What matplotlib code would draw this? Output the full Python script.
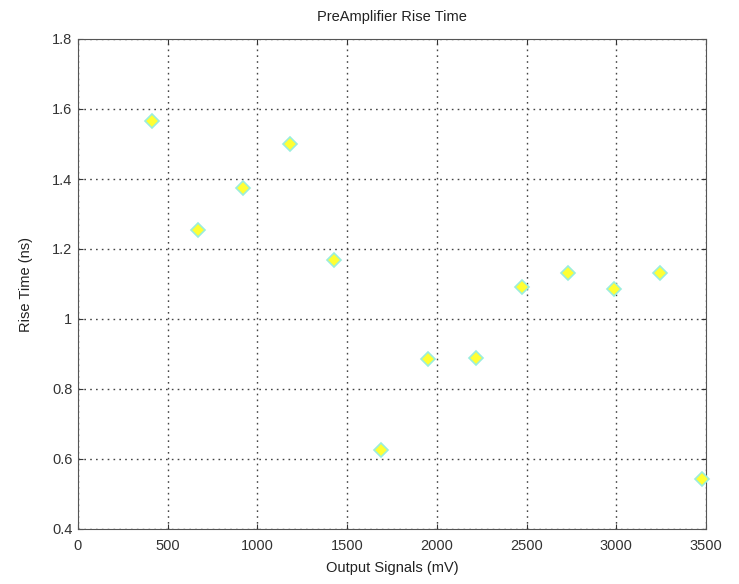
import numpy as np
import matplotlib.pyplot as plt

plt.rcParams['font.family'] = ['Liberation Sans', 'DejaVu Sans']

output_mv = [412, 669, 920, 1182, 1427, 1689, 1951, 2218, 2475, 2731, 2988, 3244, 3478]
rise_ns = [1.566, 1.254, 1.374, 1.500, 1.169, 0.626, 0.886, 0.890, 1.091, 1.131, 1.086, 1.131, 0.543]

fig = plt.figure(figsize=(7.39, 5.84), dpi=100)
ax = fig.add_axes([78 / 739, 55 / 584, 628 / 739, 490 / 584])

ax.plot(output_mv, rise_ns, linestyle='none', marker='D', markersize=7,
        markerfacecolor='#ffff33', markeredgecolor='#99eedd', markeredgewidth=1.2,
        clip_on=False, zorder=3)

ax.set_xlim(0, 3500)
ax.set_ylim(0.4, 1.8)
ax.set_xticks(np.arange(0, 3501, 500))
ax.set_yticks([0.4, 0.6, 0.8, 1, 1.2, 1.4, 1.6, 1.8])
ax.set_yticklabels(['0.4', '0.6', '0.8', '1', '1.2', '1.4', '1.6', '1.8'])
ax.grid(True, linestyle=(0, (1.2, 3)), color='#444444', linewidth=1.0)
ax.tick_params(direction='in', top=True, right=True, labelsize=10.5, colors='#333333')
ax.tick_params(axis='x', pad=7)
ax.tick_params(axis='y', pad=4)
for s in ax.spines.values():
    s.set_color('#555555')

ax.set_title('PreAmplifier Rise Time', fontsize=10.5, color='#222222', pad=13)
ax.set_xlabel('Output Signals (mV)', fontsize=10.5, color='#222222', labelpad=6)
ax.set_ylabel('Rise Time (ns)', fontsize=10.5, color='#222222', labelpad=14)

fig.savefig('out.png', dpi=100)
